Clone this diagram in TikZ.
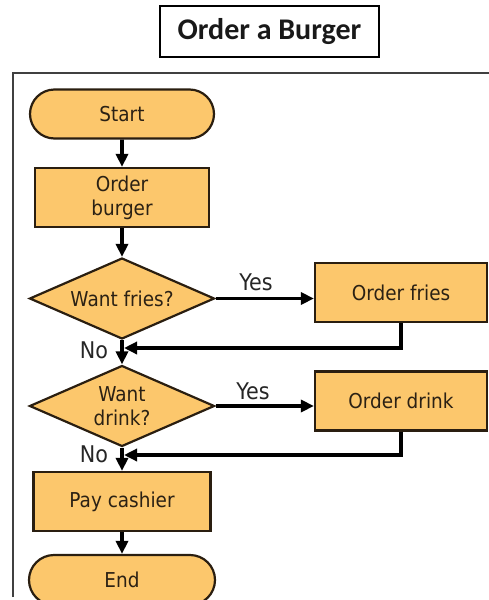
\documentclass[tikz,border=0pt]{standalone}
\usepackage{fontspec}
\usetikzlibrary{arrows.meta, positioning, shapes.geometric, shapes.misc}
\newfontfamily\flowfont{DejaVu Sans}[FakeStretch=0.9]
\newfontfamily\titlefont{Carlito}
\definecolor{bun}{HTML}{FCC76C}
\definecolor{crust}{HTML}{2A1E10}
\definecolor{ink}{HTML}{2B2114}

\begin{document}
\begin{tikzpicture}[x=1pt, y=-1pt,
    procbox/.style={rectangle, draw=crust, fill=bun, line width=2.2pt,
      minimum height=59pt, inner sep=0pt, text=ink, align=center,
      font=\flowfont\fontsize{20.5}{24}\selectfont},
    termbox/.style={procbox, rounded rectangle, minimum height=49pt},
    askbox/.style={procbox, diamond, aspect=2.3,
      minimum width=185pt, minimum height=81pt},
    flow/.style={-{Triangle[length=13pt, width=12pt]}, line width=3.6pt, black},
    lbl/.style={font=\flowfont\fontsize{23}{26}\selectfont, text=black!85}]
  \useasboundingbox (0,0) rectangle (489,600);
  % Title and frame
  \node[draw, line width=1.2pt, minimum width=219pt, minimum height=51pt,
        font=\titlefont\bfseries\fontsize{30}{36}\selectfont,
        text=black!90] (title) at (269.5,31.5) {Order a Burger};
  \draw[line width=1.2pt, black!75] (13,597) -- (13,73) -- (495,73);
  % Main column
  \node[termbox, minimum width=184pt] (start) at (122,114) {Start};
  \node[procbox, minimum width=174pt] (burger) at (122,197.5) {Order\\burger};
  \node[askbox] (askfries) at (122,298.5) {Want fries?};
  \node[askbox] (askdrink) at (122,406) {Want\\drink?};
  \node[procbox, minimum width=177pt] (pay) at (122,501.5) {Pay cashier};
  \node[termbox, minimum width=186pt, minimum height=50pt] (stop) at (122,580) {End};
  % Side orders
  \node[procbox, minimum width=172pt] (fries) at (401,292.5) {Order fries};
  \node[procbox, minimum width=172pt] (drink) at (401,401) {Order drink};
  \coordinate (joinfries) at (122,348);
  \coordinate (joindrink) at (122,455);
  % Arrows
  \foreach \a/\b in {start/burger, burger/askfries, askfries/askdrink,
                     askdrink/pay, pay/stop}
    \draw[flow] (\a) -- (\b);
  \draw[flow] (askfries.east) -- (askfries.east -| fries.west);
  \draw[flow] (askdrink.east) -- (askdrink.east -| drink.west);
  \draw[flow, shorten >=2pt] (fries.south) |- (joinfries);
  \draw[flow, shorten >=2pt] (drink.south) |- (joindrink);
  % Labels
  \foreach \n/\x/\y/\t in {yesfries/256/282/Yes, nofries/94/350/No,
                           yesdrink/253/391/Yes, nodrink/94/454/No}
    \node[lbl] (\n) at (\x,\y) {\t};
\end{tikzpicture}
\end{document}
